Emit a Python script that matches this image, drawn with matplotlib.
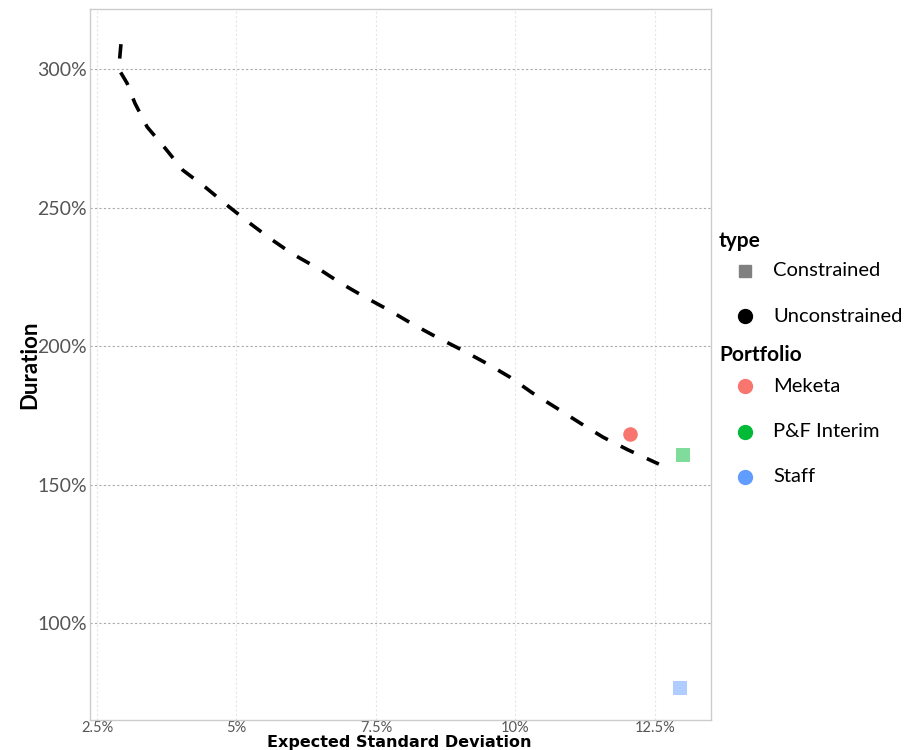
import matplotlib.pyplot as plt
from matplotlib.lines import Line2D
from matplotlib.ticker import FuncFormatter

# efficient frontier (unconstrained)
frontier_sd = [2.93, 2.89, 3.04, 3.18, 3.40, 3.72, 4.04, 4.44, 4.83, 5.21, 5.62, 6.01,
               6.45, 6.87, 7.30, 7.73, 8.16, 8.59, 9.04, 9.47, 9.90, 10.31, 10.74,
               11.16, 11.57, 12.02, 12.57]
frontier_dur = [309.0, 300.0, 294.9, 287.7, 279.1, 271.5, 263.5, 257.4, 250.9, 244.8,
                238.6, 233.2, 228.2, 222.7, 217.7, 213.0, 207.9, 203.2, 198.6, 193.9,
                188.8, 183.0, 177.6, 172.2, 167.1, 162.5, 157.4]

portfolios = ["Meketa", "P&F Interim", "Staff"]
port_sd = [12.05, 13.0, 12.95]
port_dur = [168.2, 160.6, 76.5]
port_type = ["Unconstrained", "Constrained", "Constrained"]
port_colors = ["#F8766D", "#00BA38", "#619CFF"]
types = ["Constrained", "Unconstrained"]

xticks = [2.5, 5, 7.5, 10, 12.5]
yticks = [100, 150, 200, 250, 300]

plt.rcParams["font.family"] = ["Lato", "DejaVu Sans"]

fig = plt.figure(figsize=(9.21, 7.5), dpi=100)
ax = fig.add_axes([0.0977, 0.04, 0.674, 0.948])

ax.plot(frontier_sd, frontier_dur, color="black", lw=2.6, ls=(0, (4, 4)))

for name, x, y, t, c in zip(portfolios, port_sd, port_dur, port_type, port_colors):
    if t == "Constrained":
        ax.scatter(x, y, marker="s", s=110, color=c, alpha=0.5, lw=0, zorder=3)
    else:
        ax.scatter(x, y, marker="o", s=110, color=c, lw=0, zorder=3)

ax.set_xlim(2.375, 13.5)
ax.set_ylim(65, 321.7)
ax.set_xticks(xticks)
ax.set_yticks(yticks)
ax.xaxis.set_major_formatter(FuncFormatter(lambda v, p: f"{v:g}%"))
ax.yaxis.set_major_formatter(FuncFormatter(lambda v, p: f"{v:g}%"))
ax.tick_params(axis="x", labelsize=10.5, colors="#555555", length=0, pad=1)
ax.tick_params(axis="y", labelsize=14, colors="#555555", length=0, pad=2)

ax.grid(axis="y", color="#aaaaaa", ls=(0, (2, 2)), lw=0.8)
ax.grid(axis="x", color="#e6e6e6", ls=(0, (2, 2)), lw=0.8)
for s in ax.spines.values():
    s.set_color("#cccccc")
    s.set_linewidth(1)

H = 750.0
W = 921.0
fig.text(30 / W, 1 - 365 / H, "Duration", fontsize=16, fontweight="bold",
         rotation=90, ha="center", va="center")
fig.text(0.434, 3.5 / H, "Expected Standard Deviation", fontsize=11.5, fontweight="bold",
         family="DejaVu Sans", ha="center", va="baseline")

# legend drawn by hand
fig.text(719 / W, 1 - 241 / H, "type", fontsize=15, fontweight="bold", va="center")
type_markers = {"Constrained": ("s", "#808080"), "Unconstrained": ("o", "black")}
for i, t in enumerate(types):
    yy = 1 - (271 + 45 * i) / H
    m, c = type_markers[t]
    fig.add_artist(Line2D([745 / W], [yy], marker=m, color=c, ms=10 if m == "o" else 9,
                          ls="none", transform=fig.transFigure))
    fig.text(773 / W, yy, t, fontsize=14.5, va="center")
fig.text(719 / W, 1 - 355 / H, "Portfolio", fontsize=15, fontweight="bold", va="center")
for i, (name, c) in enumerate(zip(portfolios, port_colors)):
    yy = 1 - (386 + 45.5 * i) / H
    fig.add_artist(Line2D([745 / W], [yy], marker="o", color=c, ms=10, ls="none",
                          transform=fig.transFigure))
    fig.text(773 / W, yy, name, fontsize=14.5, va="center")

fig.savefig("out.png", dpi=100)
